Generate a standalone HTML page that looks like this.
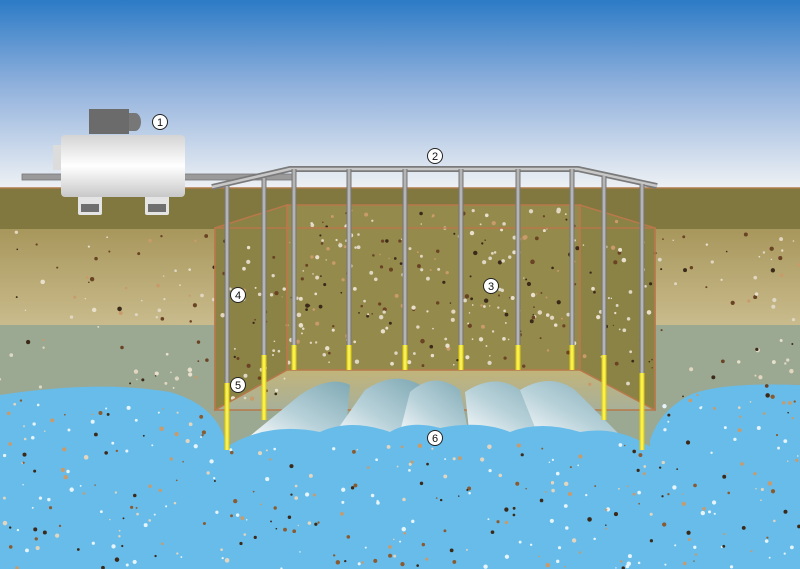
<!DOCTYPE html>
<html><head><meta charset="utf-8"><style>html,body{margin:0;padding:0;background:#fff}svg{display:block}</style></head>
<body>
<svg id="s" width="800" height="569" viewBox="0 0 800 569" xmlns="http://www.w3.org/2000/svg" font-family="Liberation Sans, sans-serif">
<defs>
<linearGradient id="sky" x1="0" y1="0" x2="0" y2="1"><stop offset="0" stop-color="#2c7bc6"/><stop offset="0.45" stop-color="#8fb0dc"/><stop offset="1" stop-color="#eef1f4"/></linearGradient>
<linearGradient id="soil" x1="0" y1="0" x2="0" y2="1"><stop offset="0" stop-color="#a8975c"/><stop offset="1" stop-color="#c9bb8c"/></linearGradient>
<linearGradient id="motor" x1="0" y1="0" x2="0" y2="1"><stop offset="0" stop-color="#d4d4d4"/><stop offset="0.5" stop-color="#ffffff"/><stop offset="1" stop-color="#c8c8c8"/></linearGradient>
<linearGradient id="pipe" x1="0" y1="0" x2="1" y2="0"><stop offset="0" stop-color="#6e6e6e"/><stop offset="0.5" stop-color="#c6c6c6"/><stop offset="1" stop-color="#6e6e6e"/></linearGradient>
<linearGradient id="yel" x1="0" y1="0" x2="1" y2="0"><stop offset="0" stop-color="#d9c400"/><stop offset="0.5" stop-color="#fffb6a"/><stop offset="1" stop-color="#d9c400"/></linearGradient>
<linearGradient id="cone" x1="0" y1="1" x2="1" y2="0"><stop offset="0" stop-color="#ffffff"/><stop offset="0.45" stop-color="#b9d2da"/><stop offset="1" stop-color="#7fa9b4"/></linearGradient>
<linearGradient id="floor" x1="0" y1="0" x2="0" y2="1"><stop offset="0" stop-color="#c2b47a"/><stop offset="1" stop-color="#a8b099"/></linearGradient>
</defs>
<rect width="800" height="188" fill="url(#sky)"/>
<rect y="188" width="800" height="41" fill="#817840"/>
<rect y="229" width="800" height="96" fill="url(#soil)"/>
<rect y="325" width="800" height="140" fill="#9ba892"/>
<line x1="0" y1="188" x2="800" y2="188" stroke="#b07a4a" stroke-width="1.5"/>
<path d="M0 395 Q100 380 170 392 Q215 405 225 440 L225 569 L0 569Z" fill="#68bce9"/>
<path d="M800 385 Q720 382 690 395 Q660 410 650 440 L650 569 L800 569Z" fill="#68bce9"/>
<rect x="215" y="228" width="440" height="182" fill="#a29a66"/>
<polygon points="215,228 287,205 287,370 215,410" fill="#8b8245"/>
<polygon points="655,228 580,205 580,370 655,410" fill="#8b8245"/>
<rect x="287" y="205" width="293" height="165" fill="#948a4c"/>
<polygon points="215,410 287,370 580,370 655,410" fill="url(#floor)"/>
<g id="specks"></g>
<g fill="none" stroke="#b8784a" stroke-width="1.5"><polygon points="215,228 287,205 287,370 215,410"/><polygon points="655,228 580,205 580,370 655,410"/><rect x="287" y="205" width="293" height="165"/><rect x="215" y="228" width="440" height="182"/></g>
<g fill="url(#cone)">
<path d="M245 440 L300 395 Q330 375 350 385 L345 440Z"/>
<path d="M330 440 L365 390 Q395 370 420 385 L415 440Z"/>
<path d="M398 440 L410 392 Q435 370 460 390 L470 440Z"/>
<path d="M470 440 L465 392 Q495 372 520 390 L560 440Z"/>
<path d="M540 440 L520 390 Q550 372 575 390 L625 440Z"/>
</g>
<path d="M215 455 Q260 420 320 432 Q350 418 390 432 Q410 420 440 428 Q480 420 510 432 Q540 420 580 432 Q620 425 655 450 L655 569 L215 569Z" fill="#68bce9"/>
<g id="specks2"></g>
<rect x="22" y="174" width="270" height="6" fill="#9a9a9a" stroke="#777" stroke-width="0.8"/>
<polyline points="212,187 290,169 578,169 657,186" fill="none" stroke="#7a7a7a" stroke-width="6"/>
<polyline points="212,187 290,169 578,169 657,186" fill="none" stroke="#c8c8c8" stroke-width="2.5"/>
<g id="vp"></g>
<rect x="89" y="109" width="40" height="25" fill="#6b6b6b"/>
<path d="M129 113 h6 a6 9 0 0 1 0 18 h-6z" fill="#777"/>
<rect x="53" y="145" width="10" height="25" fill="#dcdcdc"/>
<rect x="78" y="175" width="24" height="40" rx="2" fill="#e4e4e4"/>
<rect x="145" y="175" width="24" height="40" rx="2" fill="#e4e4e4"/>
<rect x="81" y="204" width="18" height="8" fill="#6f6f6f"/>
<rect x="148" y="204" width="18" height="8" fill="#6f6f6f"/>
<rect x="61" y="135" width="124" height="62" rx="4" fill="url(#motor)"/>
<g font-size="11" text-anchor="middle" fill="#111"><g id="labels"></g></g>
</svg>
<script>
var NS="http://www.w3.org/2000/svg";
function el(p,t,a){var e=document.createElementNS(NS,t);for(var k in a)e.setAttribute(k,a[k]);document.getElementById(p).appendChild(e);return e;}
var seed=7;function r(){seed=(seed*16807)%2147483647;return seed/2147483647;}
var cols=["#3b2a1a","#e2d6c0","#c99a6a","#6a4224","#ddd7c4","#e8e0cc"];
function sp(g,x0,y0,w,h,n,c2){for(var i=0;i<n;i++){var x=x0+r()*w,y=y0+r()*h,s=0.7+r()*1.6;el(g,"circle",{cx:x,cy:y,r:s,fill:(c2||cols)[Math.floor(r()*(c2||cols).length)]});}}
sp("specks",0,232,215,160,70);sp("specks",655,232,145,160,50);sp("specks",287,208,293,160,260);sp("specks",218,235,68,170,45);sp("specks",583,215,70,180,45);
var wc=["#3b2a1a","#e2d6c0","#c99a6a","#8a5a30","#e6f4fb","#e6f4fb"];
sp("specks2",0,400,220,169,110,wc);sp("specks2",220,445,435,124,170,wc);sp("specks2",655,395,145,174,80,wc);
var P=[[227,186,450,383],[264,178,420,355],[294,169,370,345],[349,169,370,345],[405,169,370,345],[461,169,370,345],[518,169,370,345],[572,169,370,345],[604,176,420,355],[642,184,450,373]];
P.forEach(function(p){el("vp","rect",{x:p[0]-2.5,y:p[1],width:5,height:p[3]-p[1],fill:"url(#pipe)"});el("vp","rect",{x:p[0]-2.5,y:p[3],width:5,height:p[2]-p[3],fill:"url(#yel)"});});
[[160,122,"1"],[435,156,"2"],[491,286,"3"],[238,295,"4"],[238,385,"5"],[435,438,"6"]].forEach(function(l){el("labels","circle",{cx:l[0],cy:l[1],r:7.5,fill:"#fff",stroke:"#222","stroke-width":1});var t=el("labels","text",{x:l[0],y:l[1]+4});t.textContent=l[2];});
</script>
</body></html>
